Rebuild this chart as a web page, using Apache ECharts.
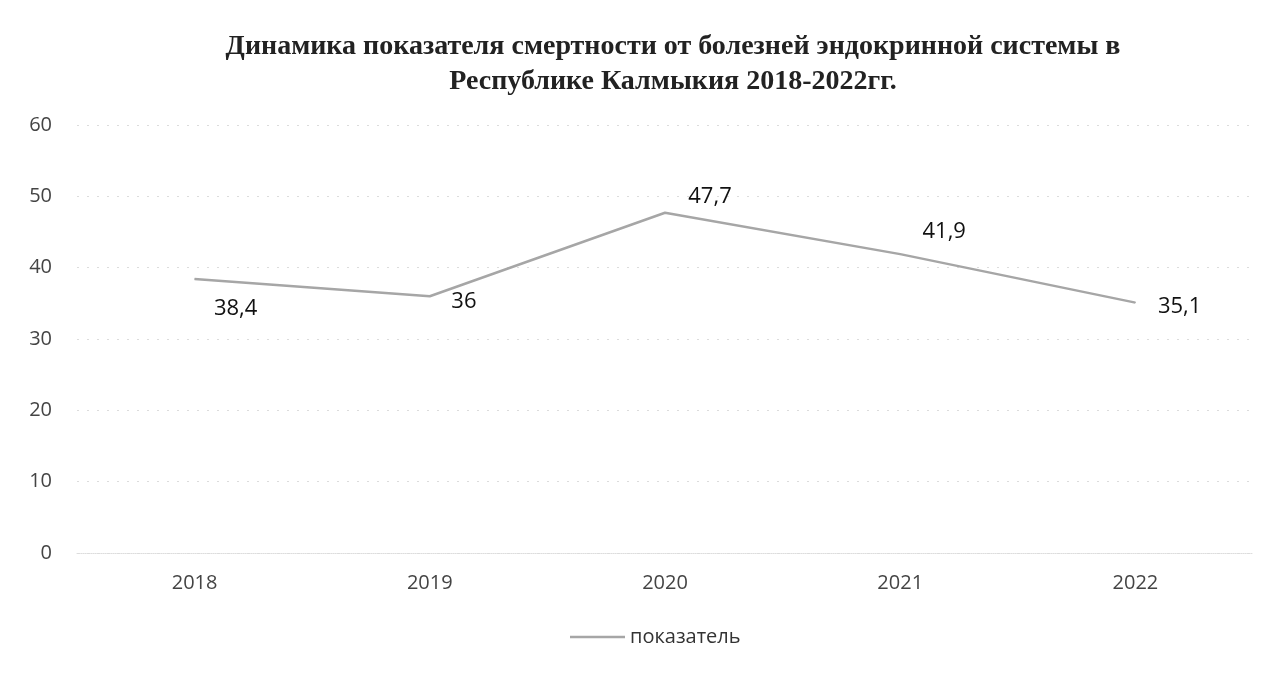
<!DOCTYPE html>
<html><head><meta charset="utf-8">
<script src="https://cdn.jsdelivr.net/npm/echarts@6/dist/echarts.min.js"></script>
<style>html,body{margin:0;padding:0;background:#fff}#c{width:1273px;height:678px}</style>
</head><body><div id="c"></div>
<script>
const categories = ['2018','2019','2020','2021','2022'];
const values = [38.4, 36, 47.7, 41.9, 35.1];
const seriesName = 'показатель';
const titleText = 'Динамика показателя смертности от болезней эндокринной системы в\nРеспублике Калмыкия 2018-2022гг.';

const labelCfg = [
  {position:'bottom', offset:[41,13]},
  {position:'right', offset:[16,6]},
  {position:'top', offset:[45,0]},
  {position:'top', offset:[44,-6]},
  {position:'right', offset:[17,4]}
];
const fmt = v => String(v).replace('.', ',');

const chart = echarts.init(document.getElementById('c'));
chart.setOption({
  backgroundColor:'#fff',
  title:{text:titleText,left:668,textAlign:'center',top:24,
    textStyle:{fontFamily:'Liberation Serif',fontWeight:'bold',fontSize:28,color:'#222',lineHeight:35}},
  legend:{bottom:26,left:565,itemWidth:55,itemHeight:10,icon:'path://M0,4 L55,4 L55,6.5 L0,6.5 Z',itemGap:4,
    textStyle:{fontFamily:'Open Sans',fontSize:20,color:'#333'},data:[seriesName]},
  grid:{left:77,right:20,top:125,bottom:125},
  xAxis:{type:'category',data:categories,boundaryGap:true,
    axisLine:{show:true,lineStyle:{color:'#ddd',type:'dotted'}},axisTick:{show:false},
    axisLabel:{fontFamily:'Open Sans',fontSize:20,color:'#444',margin:20}},
  yAxis:{type:'value',min:0,max:60,interval:10,
    axisLine:{show:false},axisTick:{show:false},
    axisLabel:{fontFamily:'Open Sans',fontSize:20,color:'#444',margin:25},
    splitLine:{lineStyle:{color:'#dcdcdc',type:[2,8],width:1}}},
  series:[{name:seriesName,type:'line',symbol:'circle',symbolSize:1,showSymbol:true,
    lineStyle:{color:'#a6a6a6',width:2.5},itemStyle:{color:'#a6a6a6'},
    data:values.map((v,i)=>({value:v,label:{show:true,position:labelCfg[i].position,offset:labelCfg[i].offset,
      formatter:p=>fmt(p.value),fontFamily:'Open Sans',fontSize:22,color:'#111'}}))}]
});
</script></body></html>
